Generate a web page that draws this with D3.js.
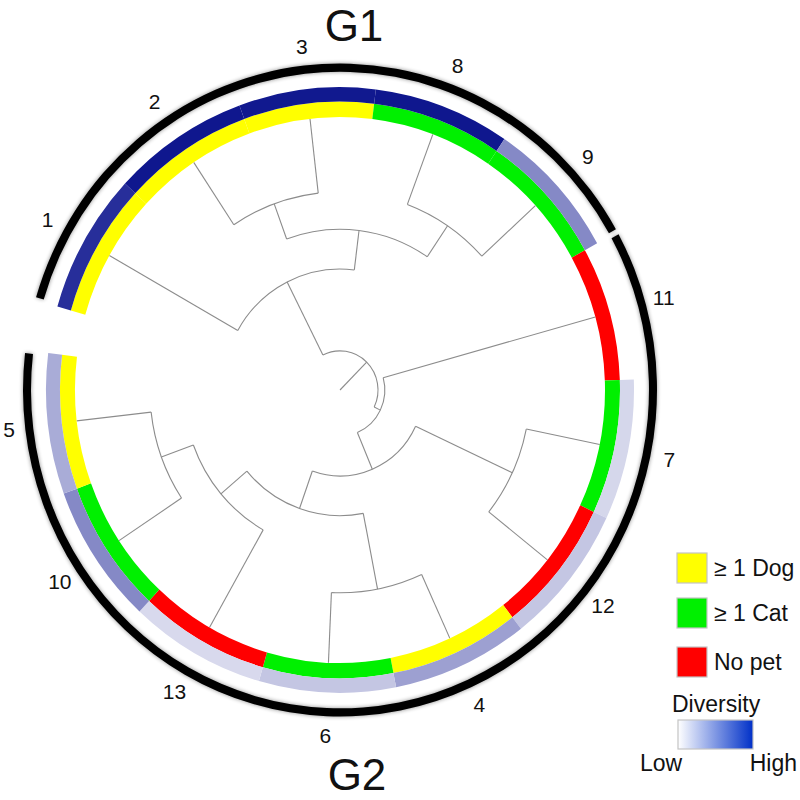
<!DOCTYPE html>
<html>
<head>
<meta charset="utf-8">
<script src="https://cdn.jsdelivr.net/npm/d3@7"></script>
<style>
  body { margin: 0; background: #fff; }
  svg { font-family: Arial, "Liberation Sans", sans-serif; }
  .link { fill: none; stroke: #8c8c8c; stroke-width: 1.1px; }
  .leaf_label { font-size: 21px; fill: #111; }
  .group_label { font-size: 44px; fill: #111; }
  .legend_text { font-size: 23px; fill: #111; }
</style>
</head>
<body>
<svg id="chart" width="800" height="800"></svg>
<script>
// leaves clockwise from the gap on the left
const leaves    = ["1", "2", "3", "8", "9", "11", "7", "12", "4", "6", "13", "10", "5"];
const pets      = ["dog", "dog", "dog", "cat", "cat", "none", "cat", "none", "dog", "cat", "none", "cat", "dog"];
const diversity = [0.88, 0.98, 0.97, 0.98, 0.5, null, 0.17, 0.24, 0.4, 0.24, 0.16, 0.5, 0.35];
const groups    = ["G1", "G1", "G1", "G1", "G1", "G2", "G2", "G2", "G2", "G2", "G2", "G2", "G2"];

// dendrogram merges: [node, first child, second child, height]
const merges = [
  ["n23", "2", "3", 0.32],
  ["n89", "8", "9", 0.32],
  ["x", "n23", "n89", 0.48],
  ["b", "1", "x", 0.65],
  ["p", "7", "12", 0.33],
  ["t", "4", "6", 0.30],
  ["r", "10", "5", 0.33],
  ["s", "13", "r", 0.48],
  ["q", "t", "s", 0.63],
  ["z", "p", "q", 0.80],
  ["y", "11", "z", 0.97],
  ["root", "b", "y", 1.0]
];

const petNames  = ["≥ 1 Dog", "≥ 1 Cat", "No pet"];
const petKeys   = ["dog", "cat", "none"];
const petColors = ["#ffff00", "#00f000", "#ff0000"];

const svg = d3.select("#chart");
const cx = 340, cy = 390, yStretch = 1.03;
const startDeg = -74, spanDeg = 351;
const rad = Math.PI / 180;

// build the tree
const heightOf = {};
merges.forEach(m => heightOf[m[0]] = m[3]);
const rows = [{id: "root", parentId: null, h: 1.0}];
merges.slice().reverse().forEach(m => {
  [m[1], m[2]].forEach(c => rows.push({id: c, parentId: m[0], h: heightOf[c] || 0}));
});
const root = d3.stratify().id(d => d.id).parentId(d => d.parentId)(rows);

d3.cluster().size([spanDeg, 1]).separation(() => 1)(root);

const rScale = d3.scaleLinear().domain([0, 1]).range([265, 38]);
root.each(d => { d.ang = d.x + startDeg; d.rad = rScale(d.data.h); });

const step = spanDeg / leaves.length;
const pt = (a, r) => [r * Math.sin(a * rad), -r * Math.cos(a * rad)];

const g = svg.append("g")
  .attr("transform", `translate(${cx},${cy}) scale(1,${yStretch})`);

// shadow for the group arcs
const defs = svg.append("defs");
const f = defs.append("filter").attr("id", "glow")
  .attr("x", "-10%").attr("y", "-10%").attr("width", "120%").attr("height", "120%");
f.append("feGaussianBlur").attr("in", "SourceAlpha").attr("stdDeviation", 2);
f.append("feComponentTransfer").append("feFuncA").attr("type", "linear").attr("slope", 0.45);
const fm = f.append("feMerge");
fm.append("feMergeNode");
fm.append("feMergeNode").attr("in", "SourceGraphic");

const grad = defs.append("linearGradient").attr("id", "divgrad");
grad.append("stop").attr("offset", "0%").attr("stop-color", "#ffffff");
grad.append("stop").attr("offset", "100%").attr("stop-color", "#0030c8");

// links
const links = g.append("g");
root.descendants().forEach(d => {
  const p = d.parent;
  const r0 = p ? p.rad : 0;
  const a = pt(d.ang, r0), b = pt(d.ang, d.rad);
  links.append("path").attr("class", "link")
    .attr("vector-effect", "non-scaling-stroke")
    .attr("d", `M${a}L${b}`);
  if (d.children) {
    const c0 = d.children[0].ang, c1 = d.children[d.children.length - 1].ang;
    const s = pt(c0, d.rad), e = pt(c1, d.rad);
    links.append("path").attr("class", "link")
      .attr("vector-effect", "non-scaling-stroke")
      .attr("d", `M${s}A${d.rad},${d.rad} 0 ${c1 - c0 > 180 ? 1 : 0} 1 ${e}`);
  }
});

// rings
const angOf = {};
root.leaves().forEach(d => angOf[d.id] = d.ang);

const arc = d3.arc();
const petColor = d3.scaleOrdinal().domain(petKeys).range(petColors);
const divColor = d3.scaleLinear().domain([0, 1]).range(["#ffffff", "#0a128c"]);

leaves.forEach((name, i) => {
  const a = angOf[name];
  g.append("path")
    .attr("d", arc({innerRadius: 265, outerRadius: 280, startAngle: (a - step / 2) * rad, endAngle: (a + step / 2) * rad}))
    .attr("fill", petColor(pets[i]));
  if (diversity[i] != null) {
    g.append("path")
      .attr("d", arc({innerRadius: 280, outerRadius: 294, startAngle: (a - step / 2) * rad, endAngle: (a + step / 2) * rad}))
      .attr("fill", divColor(diversity[i]));
  }
});

// group arcs
const ringG = g.append("g").attr("filter", "url(#glow)");
["G1", "G2"].forEach(gr => {
  const idx = leaves.map((l, i) => i).filter(i => groups[i] === gr);
  const a0 = angOf[leaves[idx[0]]] - step / 2 + 0.5;
  const a1 = angOf[leaves[idx[idx.length - 1]]] + step / 2 - 0.5;
  ringG.append("path")
    .attr("d", arc({innerRadius: 309, outerRadius: 317, startAngle: a0 * rad, endAngle: a1 * rad}))
    .attr("fill", "#000");
});

// leaf labels
leaves.forEach(name => {
  const a = angOf[name];
  const x = cx + 336 * Math.sin(a * rad);
  svg.append("text").attr("class", "leaf_label")
    .attr("x", Math.max(x, 9))
    .attr("y", cy - 336 * yStretch * Math.cos(a * rad))
    .attr("text-anchor", "middle")
    .attr("dy", "0.36em")
    .text(name);
});

svg.append("text").attr("class", "group_label")
  .attr("x", 354).attr("y", 41).attr("text-anchor", "middle").text("G1");
svg.append("text").attr("class", "group_label")
  .attr("x", 357).attr("y", 790).attr("text-anchor", "middle").text("G2");

// legend
petNames.forEach((n, i) => {
  const y0 = [553, 598, 647][i];
  svg.append("rect")
    .attr("x", 677).attr("y", y0).attr("width", 30).attr("height", 30)
    .attr("fill", petColors[i]).attr("stroke", "#c4c4c4").attr("stroke-width", 1.2);
  svg.append("text").attr("class", "legend_text")
    .attr("x", 714).attr("y", y0 + 23).text(n);
});

svg.append("text").attr("class", "legend_text")
  .attr("x", 672).attr("y", 712).text("Diversity");
svg.append("rect")
  .attr("x", 678).attr("y", 720).attr("width", 75).attr("height", 29)
  .attr("fill", "url(#divgrad)").attr("stroke", "#c4c4c4").attr("stroke-width", 1.2);
svg.append("text").attr("class", "legend_text")
  .attr("x", 640).attr("y", 771).text("Low");
svg.append("text").attr("class", "legend_text")
  .attr("x", 797).attr("y", 771).attr("text-anchor", "end").text("High");
</script>
</body>
</html>
